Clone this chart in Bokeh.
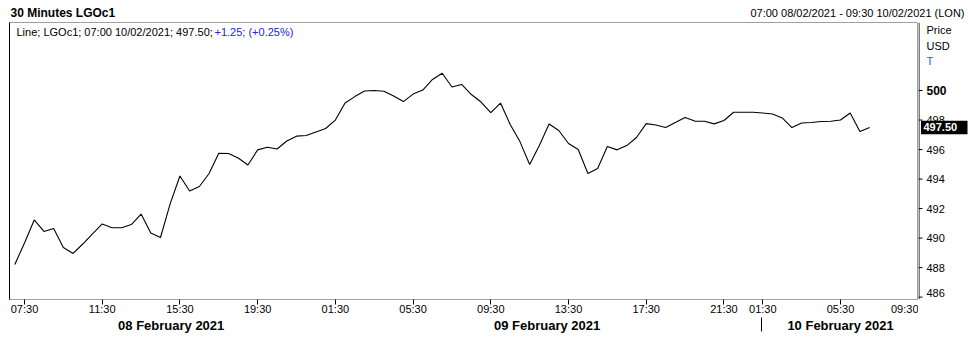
from bokeh.plotting import figure
from bokeh.models import LinearAxis, FixedTicker, Range1d, Label
from bokeh.layouts import column, row
from bokeh.core.properties import value
from bokeh.embed import file_html
from bokeh.resources import INLINE

# ---- data (30-minute bars, LGOc1, 07:00 08/02/2021 .. 07:00 10/02/2021) ----
prices = [
    488.21, 489.67, 491.23, 490.45, 490.65, 489.36, 488.96, 489.60, 490.28, 490.96,
    490.70, 490.70, 490.92, 491.63, 490.35, 490.04, 492.34, 494.21, 493.19, 493.50,
    494.38, 495.75, 495.73, 495.43, 494.95, 495.98, 496.16, 496.04, 496.58, 496.91,
    496.95, 497.19, 497.43, 498.00, 499.15, 499.59, 499.97, 500.00, 499.95, 499.63,
    499.25, 499.76, 500.03, 500.75, 501.17, 500.24, 500.41, 499.73, 499.22, 498.51,
    499.15, 497.70, 496.54, 494.99, 496.27, 497.73, 497.29, 496.41, 496.00, 494.38,
    494.72, 496.21, 495.98, 496.27, 496.82, 497.76, 497.66, 497.49, 497.83, 498.17,
    497.93, 497.92, 497.74, 497.97, 498.53, 498.53, 498.53, 498.48, 498.41, 498.14,
    497.49, 497.80, 497.83, 497.90, 497.92, 498.00, 498.48, 497.22, 497.50,
]
bar_index = list(range(len(prices)))

time_tick_index = [1, 9, 17, 25, 33, 41, 49, 57, 65, 73, 77, 85, 93]
time_tick_labels = ["07:30", "11:30", "15:30", "19:30", "01:30", "05:30", "09:30",
                    "13:30", "17:30", "21:30", "01:30", "05:30", "09:30"]
price_ticks = [486, 488, 490, 492, 494, 496, 498, 500]
date_labels = ["08 February 2021", "09 February 2021", "10 February 2021"]
date_label_index = [16.1, 54.8, 85.0]
day_break_index = [76.9]
axis_title_lines = ["Price", "USD", "T"]

instrument = "LGOc1"
period_text = "07:00 08/02/2021 - 09:30 10/02/2021 (LON)"
last_time = "07:00 10/02/2021"
net_change = 1.25
last_price = prices[-1]
pct_change = net_change / (last_price - net_change) * 100

# ---- geometry ----
W, H = 968, 340
HEAD_H = 21
FL, FR, FT, FB = 9, 918, 22, 299        # plot frame in page pixels
X0, X1 = -0.545, 93.03
Y0, Y1 = 485.84, 504.61
K = (Y1 - Y0) / (FB - FT)               # price units per pixel
FONT = "Liberation Sans"


def px2x(px):
    return X0 + (px - FL) / (FR - FL) * (X1 - X0)


def py2y(py):
    return Y1 - (py - FT) * K


common = dict(output_backend="svg", toolbar_location=None, title=None,
              x_axis_location=None, y_axis_location=None)

# ---- header strip ----
head = figure(width=W, height=HEAD_H, x_range=Range1d(0, W), y_range=Range1d(HEAD_H, 0),
              min_border=0, **common)
head.xgrid.visible = False
head.ygrid.visible = False
head.outline_line_color = None
head.text(x=[10], y=[12], text=["30 Minutes " + instrument], text_font=value(FONT),
          text_font_size="12px", text_font_style="bold", text_baseline="middle",
          text_align="left", text_color="black")
head.text(x=[964], y=[12], text=[period_text], text_font=value(FONT),
          text_font_size="11px", text_baseline="middle", text_align="right",
          text_color="black")

# ---- main chart ----
MAIN_W = FR
MAIN_H = H - HEAD_H
p = figure(width=MAIN_W, height=MAIN_H, x_range=Range1d(X0, X1), y_range=Range1d(Y0, Y1),
           min_border_left=FL, min_border_right=0, min_border_top=FT - HEAD_H,
           min_border_bottom=H - FB, **common)
p.xgrid.visible = False
p.ygrid.visible = False
p.outline_line_color = "#a0a0a0"
p.line(bar_index, prices, line_color="black", line_width=1.1)

left_ax = LinearAxis(ticker=FixedTicker(ticks=[]), axis_line_color="black",
                     major_tick_line_color=None, minor_tick_line_color=None,
                     major_label_text_font_size="0px", major_label_standoff=0)
p.add_layout(left_ax, "left")

bottom_ax = LinearAxis(ticker=FixedTicker(ticks=time_tick_index, minor_ticks=[]),
                       major_label_overrides={t: l for t, l in zip(time_tick_index, time_tick_labels)},
                       axis_line_color="#a0a0a0", major_tick_line_color="black",
                       major_tick_out=5, major_tick_in=0, major_label_standoff=-2,
                       major_label_text_font=FONT, major_label_text_font_size="11px",
                       major_label_text_color="black")
p.add_layout(bottom_ax, "below")

date_ax = LinearAxis(ticker=FixedTicker(ticks=date_label_index, minor_ticks=day_break_index),
                     major_label_overrides={t: l for t, l in zip(date_label_index, date_labels)},
                     axis_line_color=None, major_tick_line_color=None,
                     major_tick_out=0, major_tick_in=0,
                     minor_tick_line_color="black", minor_tick_out=14, minor_tick_in=0,
                     major_label_standoff=-14,
                     major_label_text_font=FONT, major_label_text_font_size="13px",
                     major_label_text_font_style="bold", major_label_text_color="black")
p.add_layout(date_ax, "below")

legend_black = f"Line; {instrument}; {last_time}; {last_price:.2f};"
legend_blue = f"{net_change:+.2f}; ({pct_change:+.2f}%)"
p.add_layout(Label(x=px2x(16), y=py2y(31), text=legend_black, text_font=FONT,
                   text_font_size="11px", text_baseline="middle", text_align="left",
                   text_color="black"))
p.add_layout(Label(x=px2x(214), y=py2y(31), text=legend_blue, text_font=FONT,
                   text_font_size="11px", text_baseline="middle", text_align="left",
                   text_color="#2323d8"))

# ---- right price scale strip (frame is aligned with the main chart frame) ----
SW = W - FR
side = figure(width=SW, height=MAIN_H, x_range=Range1d(0, SW), y_range=p.y_range,
              min_border=0, **common)
side.xgrid.visible = False
side.ygrid.visible = False
side.outline_line_color = None
side.segment(x0=[0.5], y0=[Y0], x1=[0.5], y1=[Y1], line_color="black", line_width=1)
side.segment(x0=[0] * len(price_ticks), x1=[4] * len(price_ticks),
             y0=price_ticks, y1=price_ticks, line_color="black", line_width=1)
mid_ticks = [t for t in price_ticks if t not in (486, 500)]
side.text(x=[8] * len(mid_ticks), y=mid_ticks, text=[str(t) for t in mid_ticks],
          text_font=value(FONT), text_font_size="11px", text_baseline="middle",
          text_align="left", text_color="black")
side.text(x=[8], y=[486], text=["486"], y_offset=-4, text_font=value(FONT),
          text_font_size="11px", text_baseline="middle", text_align="left", text_color="black")
side.text(x=[8], y=[500], text=["500"], text_font=value(FONT), text_font_size="12px",
          text_font_style="bold", text_baseline="middle", text_align="left", text_color="black")
side.text(x=[8] * 3, y=[py2y(29), py2y(45), py2y(60)], text=axis_title_lines,
          text_font=value(FONT), text_font_size="11px", text_baseline="middle",
          text_align="left", text_color=["black", "black", "#1b62c4"])
side.quad(left=[2.5], right=[SW - 1], top=[last_price + 6.7 * K], bottom=[last_price - 6.7 * K],
          fill_color="black", line_color=None)
side.text(x=[5], y=[last_price], text=[f"{last_price:.2f}"], text_font=value(FONT),
          text_font_size="11px", text_font_style="bold", text_baseline="middle",
          text_align="left", text_color="white")

layout = column(head, row(p, side, spacing=0), spacing=0)
open("out.html", "w").write(file_html(layout, INLINE))
